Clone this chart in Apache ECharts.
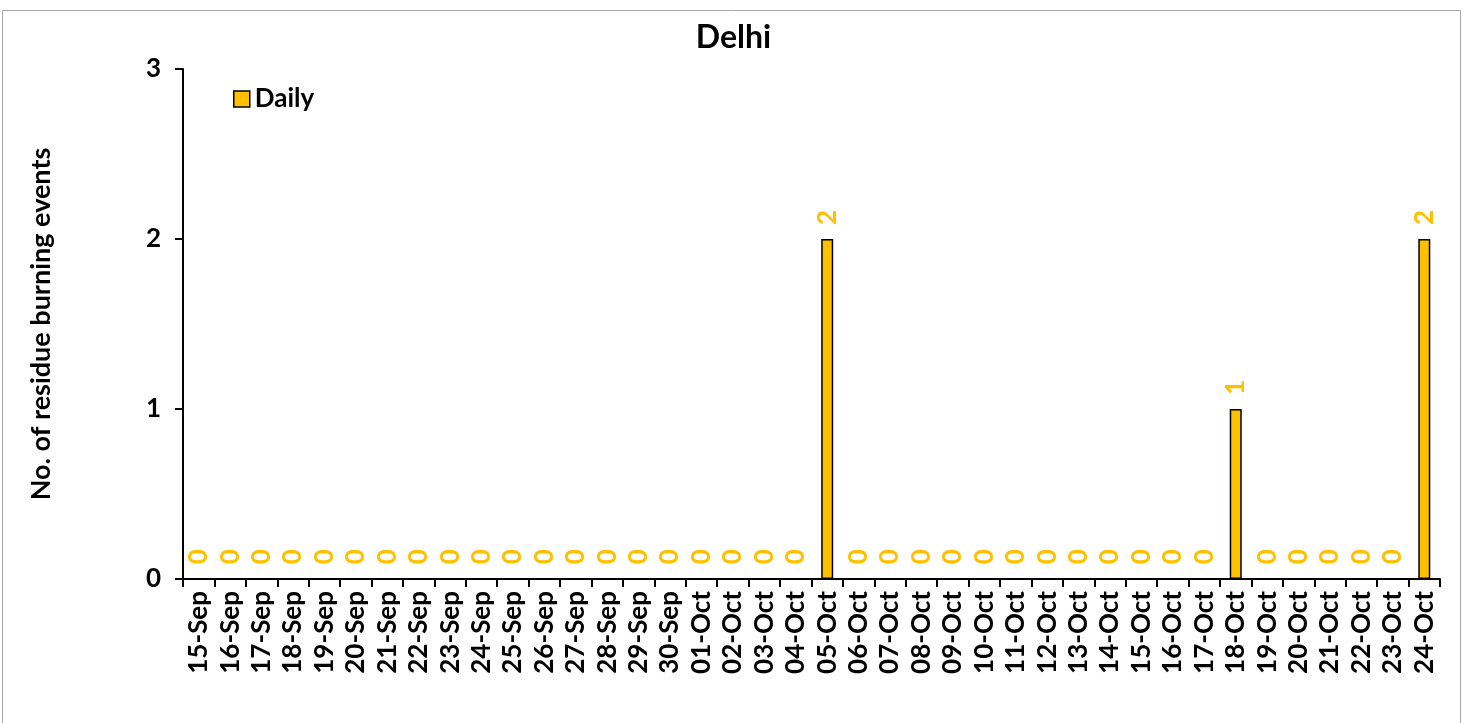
<!DOCTYPE html>
<html>
<head>
<meta charset="utf-8">
<script src="https://cdn.jsdelivr.net/npm/echarts@6/dist/echarts.min.js"></script>
<style>
html,body{margin:0;padding:0;background:#fff;}
#c{width:1467px;height:723px;}
</style>
</head>
<body>
<div id="c"></div>
<script>
const categories = ['15-Sep','16-Sep','17-Sep','18-Sep','19-Sep','20-Sep','21-Sep','22-Sep','23-Sep','24-Sep','25-Sep','26-Sep','27-Sep','28-Sep','29-Sep','30-Sep','01-Oct','02-Oct','03-Oct','04-Oct','05-Oct','06-Oct','07-Oct','08-Oct','09-Oct','10-Oct','11-Oct','12-Oct','13-Oct','14-Oct','15-Oct','16-Oct','17-Oct','18-Oct','19-Oct','20-Oct','21-Oct','22-Oct','23-Oct','24-Oct'];
const dailyValues = [0,0,0,0,0,0,0,0,0,0,0,0,0,0,0,0,0,0,0,0,2,0,0,0,0,0,0,0,0,0,0,0,0,1,0,0,0,0,0,2];
const yTicks = [0,1,2,3];
const chartTitle = 'Delhi';
const seriesName = 'Daily';
const yAxisTitle = 'No. of residue burning events';

const FONT = 'Lato';
const chart = echarts.init(document.getElementById('c'), null, {renderer:'canvas'});
chart.setOption({
  animation:false,
  backgroundColor:'#fff',
  graphic:[{type:'rect',shape:{x:2.5,y:10.5,width:1458,height:730},style:{fill:'none',stroke:'#a6a6a6',lineWidth:1},silent:true}],
  title:{text:chartTitle,left:'center',top:17,textStyle:{fontFamily:FONT,fontWeight:'bold',fontSize:32,color:'#000'}},
  legend:{data:[{name:seriesName,icon:'rect'}],left:228,top:81,itemWidth:16,itemHeight:16,itemGap:5,
    textStyle:{fontFamily:FONT,fontWeight:'bold',fontSize:26,color:'#000'},
    itemStyle:{borderColor:'#000',borderWidth:1.5}},
  grid:{left:183,right:27,top:69,bottom:144,containLabel:false},
  xAxis:{type:'category',data:categories,
    axisLine:{lineStyle:{color:'#000',width:2}},
    axisTick:{show:true,alignWithLabel:false,length:8,inside:false,lineStyle:{color:'#000',width:2}},
    axisLabel:{rotate:90,interval:0,margin:12,fontFamily:FONT,fontWeight:'bold',fontSize:26,color:'#000'}},
  yAxis:{type:'value',min:yTicks[0],max:yTicks[yTicks.length-1],interval:1,
    name:yAxisTitle,nameLocation:'middle',nameGap:128,nameRotate:90,
    nameTextStyle:{fontFamily:FONT,fontWeight:'bold',fontSize:27,color:'#000'},
    splitLine:{show:false},
    axisLine:{show:true,lineStyle:{color:'#000',width:2}},
    axisTick:{show:true,length:8,lineStyle:{color:'#000',width:2}},
    axisLabel:{margin:22,fontFamily:FONT,fontWeight:'bold',fontSize:26,color:'#000'}},
  series:[{name:seriesName,type:'bar',data:dailyValues,barWidth:12,
    itemStyle:{color:'#FFC000',borderColor:'#000',borderWidth:1.5},
    label:{show:true,position:'top',rotate:90,align:'left',verticalAlign:'middle',distance:14,
      fontFamily:FONT,fontWeight:'bold',fontSize:26,color:'#FFC000'}}]
});
</script>
</body>
</html>
